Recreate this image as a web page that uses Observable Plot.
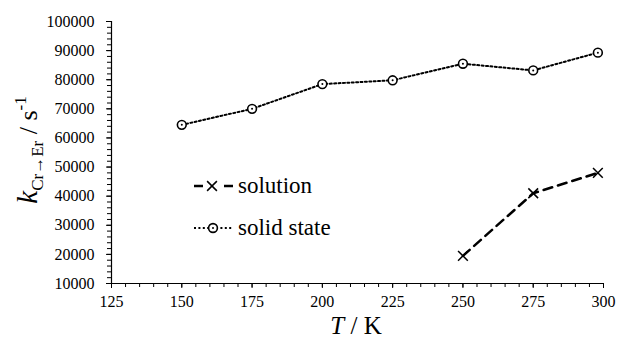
<!DOCTYPE html>
<html>
<head>
<meta charset="utf-8">
<script src="https://cdn.jsdelivr.net/npm/d3@7"></script>
<script src="https://cdn.jsdelivr.net/npm/@observablehq/plot@0.6"></script>
<style>
  html, body { margin: 0; padding: 0; background: white; }
</style>
</head>
<body>
<div id="chart"></div>
<script>
// Data
const tSolid = [150, 175, 200, 225, 250, 275, 298];
const kSolid = [64500, 70000, 78500, 79800, 85500, 83200, 89300];
const tSolution = [250, 275, 298];
const kSolution = [19500, 41000, 48000];
const xTickLabels = [125, 150, 175, 200, 225, 250, 275, 300];
const yTickLabels = [10000, 20000, 30000, 40000, 50000, 60000, 70000, 80000, 90000, 100000];
const seriesNames = ["solution", "solid state"];

const solid = tSolid.map((t, i) => ({T: t, k: kSolid[i]}));
const solution = tSolution.map((t, i) => ({T: t, k: kSolution[i]}));
const xMinor = d3.range(125, 300.1, 5);
const yMinor = d3.range(10000, 100001, 2000);

const font = "'Liberation Serif', 'Times New Roman', serif";

const plot = Plot.plot({
  width: 617,
  height: 343,
  marginLeft: 111,
  marginRight: 14,
  marginTop: 21,
  marginBottom: 60,
  style: {fontFamily: font, fontSize: "16px", color: "black", background: "white"},
  x: {domain: [125, 300]},
  y: {domain: [10000, 100000]},
  marks: [
    Plot.axisY(yMinor, {tickSize: 4, text: null, label: null}),
    Plot.axisY(yTickLabels, {tickSize: 5, tickPadding: 12, tickFormat: d => String(d), label: null, fontSize: 16}),
    Plot.axisX(xMinor, {tickSize: 4, text: null, label: null}),
    Plot.axisX(xTickLabels, {tickSize: 5, tickPadding: 7, tickFormat: d => String(d), label: null, fontSize: 16}),
    Plot.ruleX([125], {stroke: "black", strokeWidth: 1.2}),
    Plot.ruleY([10000], {stroke: "black", strokeWidth: 1.2}),
    Plot.line(solid, {x: "T", y: "k", stroke: "black", strokeWidth: 2, strokeDasharray: "2,2.4"}),
    Plot.dot(solid, {x: "T", y: "k", r: 4.4, stroke: "black", strokeWidth: 1.6, fill: "white"}),
    Plot.dot(solid, {x: "T", y: "k", r: 1, fill: "black"}),
    Plot.line(solution, {x: "T", y: "k", stroke: "black", strokeWidth: 2.5, strokeDasharray: "9,6"}),
    Plot.dot(solution, {x: "T", y: "k", symbol: "times", r: 4.5, stroke: "black", strokeWidth: 1.5})
  ]
});

document.getElementById("chart").appendChild(plot);

const svg = d3.select(plot);

// Y axis title
const yt = svg.append("text")
  .attr("transform", "translate(37,150) rotate(-90)")
  .attr("text-anchor", "middle")
  .attr("font-family", font)
  .attr("fill", "black");
yt.append("tspan").attr("font-style", "italic").attr("font-size", 29).text("k");
yt.append("tspan").attr("font-size", 17).attr("dy", 6).text("Cr→Er");
yt.append("tspan").attr("font-size", 26).attr("dy", -6).text(" / s");
yt.append("tspan").attr("font-size", 17).attr("dy", -11).text("-1");

// X axis title
const xt = svg.append("text")
  .attr("x", 356).attr("y", 334)
  .attr("text-anchor", "middle")
  .attr("font-family", font)
  .attr("font-size", 25)
  .attr("fill", "black");
xt.append("tspan").attr("font-style", "italic").text("T");
xt.append("tspan").text(" / K");

// Legend
const lg = svg.append("g").attr("font-family", font).attr("font-size", 23)
  .attr("fill", "black").attr("text-anchor", "start");
const rows = [
  {y: 186, dash: "9,6", w: 2.5, name: seriesNames[0], sym: "times"},
  {y: 228, dash: "2,2.4", w: 2, name: seriesNames[1], sym: "circle"}
];
rows.forEach(r => {
  lg.append("line").attr("x1", 194).attr("x2", 233).attr("y1", r.y).attr("y2", r.y)
    .attr("stroke", "black").attr("stroke-width", r.w).attr("stroke-dasharray", r.dash);
  if (r.sym === "times") {
    lg.append("rect").attr("x", 205).attr("y", r.y - 6).attr("width", 14).attr("height", 12).attr("fill", "white");
    lg.append("path").attr("d", d3.symbol(d3.symbolTimes, 64)())
      .attr("transform", `translate(212,${r.y})`).attr("fill", "none").attr("stroke", "black").attr("stroke-width", 1.5);
  } else {
    lg.append("circle").attr("cx", 213).attr("cy", r.y).attr("r", 4.4).attr("fill", "white").attr("stroke", "black").attr("stroke-width", 1.6);
    lg.append("circle").attr("cx", 213).attr("cy", r.y).attr("r", 1).attr("fill", "black");
  }
  lg.append("text").attr("x", 238).attr("y", r.y + 7).text(r.name);
});
</script>
</body>
</html>
